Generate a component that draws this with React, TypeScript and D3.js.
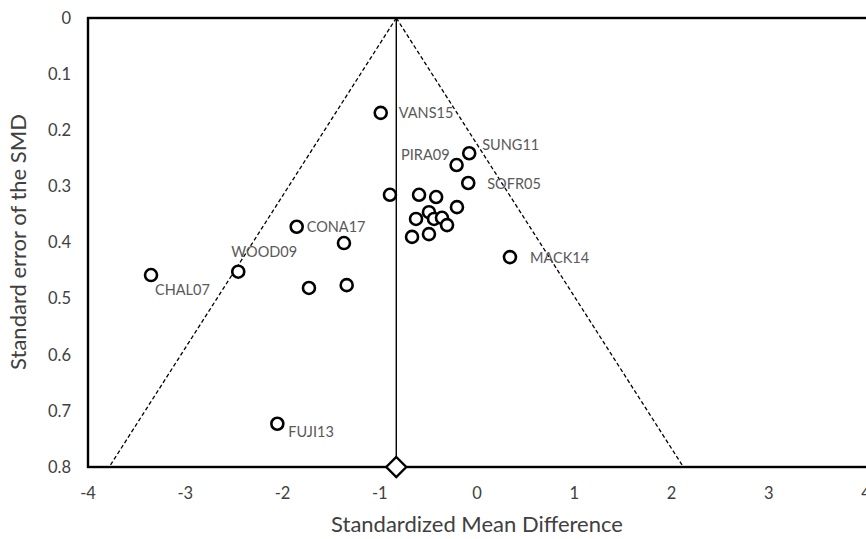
import React from "react";
import * as d3 from "d3";

// Study effect sizes (SMD) and standard errors
const smd = [-0.99, -0.08, -0.21, -0.09, -0.895, -0.596, -0.42, -0.206, -0.494, -0.627, -0.442, -0.36, -0.308, -0.668, -0.494, 0.339, -1.854, -1.368, -2.455, -3.352, -1.728, -1.34, -2.053];
const se = [0.169, 0.241, 0.262, 0.294, 0.315, 0.315, 0.319, 0.337, 0.346, 0.358, 0.358, 0.356, 0.369, 0.39, 0.385, 0.426, 0.372, 0.401, 0.452, 0.458, 0.481, 0.476, 0.723];
const studyLabels = ["VANS15", "SUNG11", "PIRA09", "SOFR05", "", "", "", "", "", "", "", "", "", "", "", "MACK14", "CONA17", "", "WOOD09", "CHAL07", "", "", "FUJI13"];

const pooledSMD = -0.83;
const funnelSlope = 3.69; // half-width per unit SE
const xTicks = [-4, -3, -2, -1, 0, 1, 2, 3, 4];
const yTicks = [0, 0.1, 0.2, 0.3, 0.4, 0.5, 0.6, 0.7, 0.8];

// label layout offsets (px) [dx, dy, anchor]
const labelLayout: Record<string, [number, number, string]> = {
  VANS15: [18, 0, "start"],
  SUNG11: [13, -8, "start"],
  PIRA09: [-7, -10, "end"],
  SOFR05: [19, 1, "start"],
  CONA17: [10, 0, "start"],
  WOOD09: [-7, -20, "start"],
  CHAL07: [4, 15, "start"],
  MACK14: [20, 1, "start"],
  FUJI13: [11, 8, "start"],
};

export default function App() {
  const W = 866, H = 539;
  const left = 88, top = 18, right = 866, bottom = 467;
  const x = d3.scaleLinear().domain([-4, 4]).range([left, right]);
  const y = d3.scaleLinear().domain([0, 0.8]).range([top, bottom]);
  const grey = "#595959";
  const dark = "#404040";
  const font = "Lato, 'Open Sans', sans-serif";
  const seMax = 0.8;
  const line = d3.line<[number, number]>().x(d => x(d[0])).y(d => y(d[1]));
  const leftFunnel = line([[pooledSMD, 0], [pooledSMD - funnelSlope * seMax, seMax]]);
  const rightFunnel = line([[pooledSMD, 0], [pooledSMD + funnelSlope * seMax, seMax]]);
  const cx = x(pooledSMD), by = y(seMax);
  const d = 10;
  return (
    <svg width={W} height={H} style={{ position: "absolute", left: 0, top: 0, background: "#fff" }}>
      <rect x={0} y={0} width={W} height={H} fill="#fff" />
      {/* funnel */}
      <path d={leftFunnel || ""} stroke="#000" strokeWidth={1.3} strokeDasharray="4,2.5" fill="none" />
      <path d={rightFunnel || ""} stroke="#000" strokeWidth={1.3} strokeDasharray="4,2.5" fill="none" />
      <line x1={cx} x2={cx} y1={y(0)} y2={by} stroke="#000" strokeWidth={1.4} />
      {/* frame */}
      <rect x={left} y={top} width={right - left + 2} height={bottom - top} fill="none" stroke="#000" strokeWidth={2.4} />
      {/* points */}
      {smd.map((v, i) => (
        <circle key={i} cx={x(v)} cy={y(se[i])} r={6} fill="#fff" stroke="#000" strokeWidth={2.6} />
      ))}
      {/* labels */}
      {studyLabels.map((lab, i) => {
        if (!lab) return null;
        const [dx, dy, anchor] = labelLayout[lab];
        return (
          <text key={"l" + i} x={x(smd[i]) + dx} y={y(se[i]) + dy} dy="0.35em" textAnchor={anchor as any}
            fontFamily={font} fontSize={14.5} fill={grey}>{lab}</text>
        );
      })}
      {/* pooled diamond */}
      <path d={`M${cx},${by - d}L${cx + d},${by}L${cx},${by + d}L${cx - d},${by}Z`} fill="#fff" stroke="#000" strokeWidth={2.4} />
      {/* y ticks */}
      {yTicks.map(t => (
        <text key={"y" + t} x={71} y={y(t)} dy="0.35em" textAnchor="end" fontFamily={font} fontSize={16.5} fill={dark}>{t}</text>
      ))}
      {/* x ticks */}
      {xTicks.map(t => (
        <text key={"x" + t} x={x(t)} y={493} dy="0.35em" textAnchor="middle" fontFamily={font} fontSize={16.5} fill={dark}>{t}</text>
      ))}
      <text x={477} y={524} dy="0.35em" textAnchor="middle" fontFamily={font} fontSize={22} fill={dark}>Standardized Mean Difference</text>
      <text transform={`translate(18,${242}) rotate(-90)`} dy="0.35em" textAnchor="middle" fontFamily={font} fontSize={22} fill={dark}>Standard error of the SMD</text>
    </svg>
  );
}
